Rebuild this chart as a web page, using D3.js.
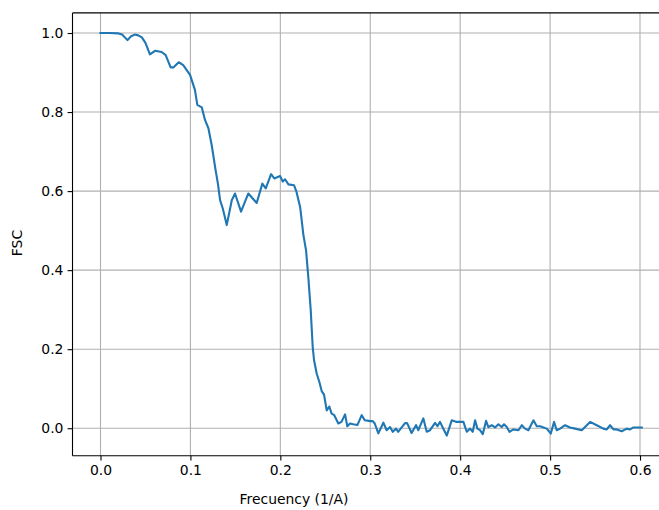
<!DOCTYPE html>
<html>
<head>
<meta charset="utf-8">
<script src="https://cdn.jsdelivr.net/npm/d3@7"></script>
<style>
html,body{margin:0;padding:0;background:#fff;}
svg{display:block;}
text{font-family:"DejaVu Sans",sans-serif;fill:#000;}
</style>
</head>
<body>
<svg id="chart" width="659" height="510"></svg>
<script>
const frequency = [0, 0.010, 0.020, 0.024, 0.030, 0.034, 0.038, 0.042, 0.046, 0.050,
  0.055, 0.0606, 0.068, 0.0725, 0.078, 0.081, 0.087, 0.092, 0.0996, 0.105,
  0.1077, 0.1126, 0.1162, 0.120, 0.1237, 0.128, 0.1305, 0.133, 0.136, 0.1404,
  0.146, 0.1496, 0.1563, 0.1644, 0.1737, 0.180, 0.1838, 0.1897, 0.1933, 0.1997,
  0.2027, 0.2052, 0.209, 0.2152, 0.218, 0.222, 0.2256, 0.2286, 0.2311, 0.2338,
  0.236, 0.2375, 0.2405, 0.2434, 0.246, 0.2486, 0.2516, 0.2545, 0.257, 0.260,
  0.2645, 0.268, 0.272, 0.2745, 0.2775, 0.281, 0.2857, 0.2905, 0.294, 0.2998,
  0.3028, 0.305, 0.309, 0.3146, 0.3183, 0.322, 0.325, 0.3287, 0.331, 0.3387,
  0.341, 0.346, 0.351, 0.3535, 0.359, 0.3628, 0.3665, 0.3721, 0.3747, 0.3776,
  0.3806, 0.3851, 0.3906, 0.3962, 0.3999, 0.4036, 0.4073, 0.411, 0.414, 0.4166,
  0.4192, 0.4221, 0.4251, 0.4288, 0.4314, 0.4351, 0.4388, 0.4425, 0.4462, 0.4488,
  0.4518, 0.4548, 0.4592, 0.4648, 0.4685, 0.4722, 0.4759, 0.4815, 0.4852, 0.4889,
  0.4926, 0.4963, 0.5008, 0.5044, 0.5074, 0.5111, 0.5167, 0.5222, 0.5278, 0.5352,
  0.5445, 0.5519, 0.5593, 0.563, 0.5667, 0.5705, 0.5742, 0.5797, 0.5853, 0.589,
  0.5927, 0.5964, 0.602];
const fsc = [1.0, 1.0, 0.999, 0.996, 0.982, 0.992, 0.996, 0.994, 0.989, 0.975,
  0.946, 0.955, 0.952, 0.944, 0.913, 0.913, 0.926, 0.919, 0.894, 0.856,
  0.818, 0.812, 0.780, 0.759, 0.716, 0.653, 0.620, 0.577, 0.556, 0.514,
  0.577, 0.594, 0.548, 0.594, 0.570, 0.619, 0.607, 0.643, 0.632, 0.638,
  0.624, 0.630, 0.617, 0.615, 0.598, 0.560, 0.490, 0.450, 0.383, 0.299,
  0.206, 0.172, 0.138, 0.117, 0.094, 0.085, 0.045, 0.055, 0.037, 0.033,
  0.012, 0.016, 0.035, 0.005, 0.012, 0.010, 0.008, 0.033, 0.020, 0.018,
  0.018, 0.012, -0.013, 0.014, -0.005, 0.003, -0.009, -0.001, -0.009, 0.013,
  0.013, -0.012, 0.008, -0.005, 0.025, -0.009, -0.005, 0.0135, 0.005, 0.016,
  0.002, -0.0186, 0.020, 0.016, 0.016, 0.016, -0.009, -0.001, -0.009, 0.020,
  -0.001, -0.005, -0.015, 0.0186, 0.003, 0.0076, 0.002, 0.010, 0.003, 0.010,
  0.003, -0.009, -0.003, -0.005, 0.0076, -0.001, -0.005, 0.020, 0.005, 0.005,
  0.002, -0.001, -0.0135, 0.016, -0.005, -0.001, 0.0076, 0.002, -0.001, -0.005,
  0.016, 0.0076, -0.001, -0.003, 0.0076, -0.003, -0.003, -0.0076, -0.001, -0.003,
  0.002, 0.002, 0.002];
const xTicks = [0.0, 0.1, 0.2, 0.3, 0.4, 0.5, 0.6];
const yTicks = [0.0, 0.2, 0.4, 0.6, 0.8, 1.0];
const xLabel = "Frecuency (1/A)";
const yLabel = "FSC";

(function () {
const svg = d3.select("#chart");
const pLeft = 72.5, pTop = 12.9, pBottom = 455.7;
const x = d3.scaleLinear().domain([0, 0.6]).range([100.5, 640.0]);
const y = d3.scaleLinear().domain([-0.0695, 1.0509]).range([pBottom, pTop]);
const pRight = x(0.6331);

const data = frequency.map((f, i) => ({f, v: fsc[i]}));

// grid
const g = svg.append("g");
g.selectAll(".vg").data(xTicks).join("line")
  .attr("x1", d => x(d)).attr("x2", d => x(d))
  .attr("y1", pTop).attr("y2", pBottom)
  .attr("stroke", "#b0b0b0").attr("stroke-width", 1.1);
g.selectAll(".hg").data(yTicks).join("line")
  .attr("x1", pLeft).attr("x2", pRight)
  .attr("y1", d => y(d)).attr("y2", d => y(d))
  .attr("stroke", "#b0b0b0").attr("stroke-width", 1.1);

// line
svg.append("path").datum(data)
  .attr("fill", "none").attr("stroke", "#1f77b4").attr("stroke-width", 2.1)
  .attr("stroke-linejoin", "round").attr("stroke-linecap", "square")
  .attr("d", d3.line().x(d => x(d.f)).y(d => y(d.v)));

// axes
const xAxis = d3.axisBottom(x).tickValues(xTicks).tickFormat(d3.format(".1f"))
  .tickSize(4.9).tickPadding(4.2).tickSizeOuter(0);
const yAxis = d3.axisLeft(y).tickValues(yTicks).tickFormat(d3.format(".1f"))
  .tickSize(4.9).tickPadding(4.2).tickSizeOuter(0);
const gx = svg.append("g").attr("transform", `translate(0,${pBottom})`).call(xAxis);
const gy = svg.append("g").attr("transform", `translate(${pLeft},0)`).call(yAxis);
[gx, gy].forEach(a => {
  a.select(".domain").remove();
  a.selectAll(".tick line").attr("stroke", "#000").attr("stroke-width", 1.1);
  a.selectAll(".tick text").attr("font-size", "13.9px").attr("font-family", "DejaVu Sans").attr("fill", "#000");
});

// spines
const sp = svg.append("g").attr("fill", "none").attr("stroke", "#000").attr("stroke-width", 1.1);
sp.append("line").attr("x1", pLeft).attr("x2", pLeft).attr("y1", pTop).attr("y2", pBottom);
sp.append("line").attr("x1", pLeft).attr("x2", pRight).attr("y1", pBottom).attr("y2", pBottom);
sp.append("line").attr("x1", pLeft).attr("x2", pRight).attr("y1", pTop).attr("y2", pTop);
sp.append("line").attr("x1", pRight).attr("x2", pRight).attr("y1", pTop).attr("y2", pBottom);

// labels
svg.append("text").attr("x", 294).attr("y", 503.5)
  .attr("text-anchor", "middle").attr("font-size", "13.9px").text(xLabel);
svg.append("text").attr("transform", `translate(22,243) rotate(-90)`)
  .attr("text-anchor", "middle").attr("font-size", "13.9px").text(yLabel);
})();
</script>
</body>
</html>
